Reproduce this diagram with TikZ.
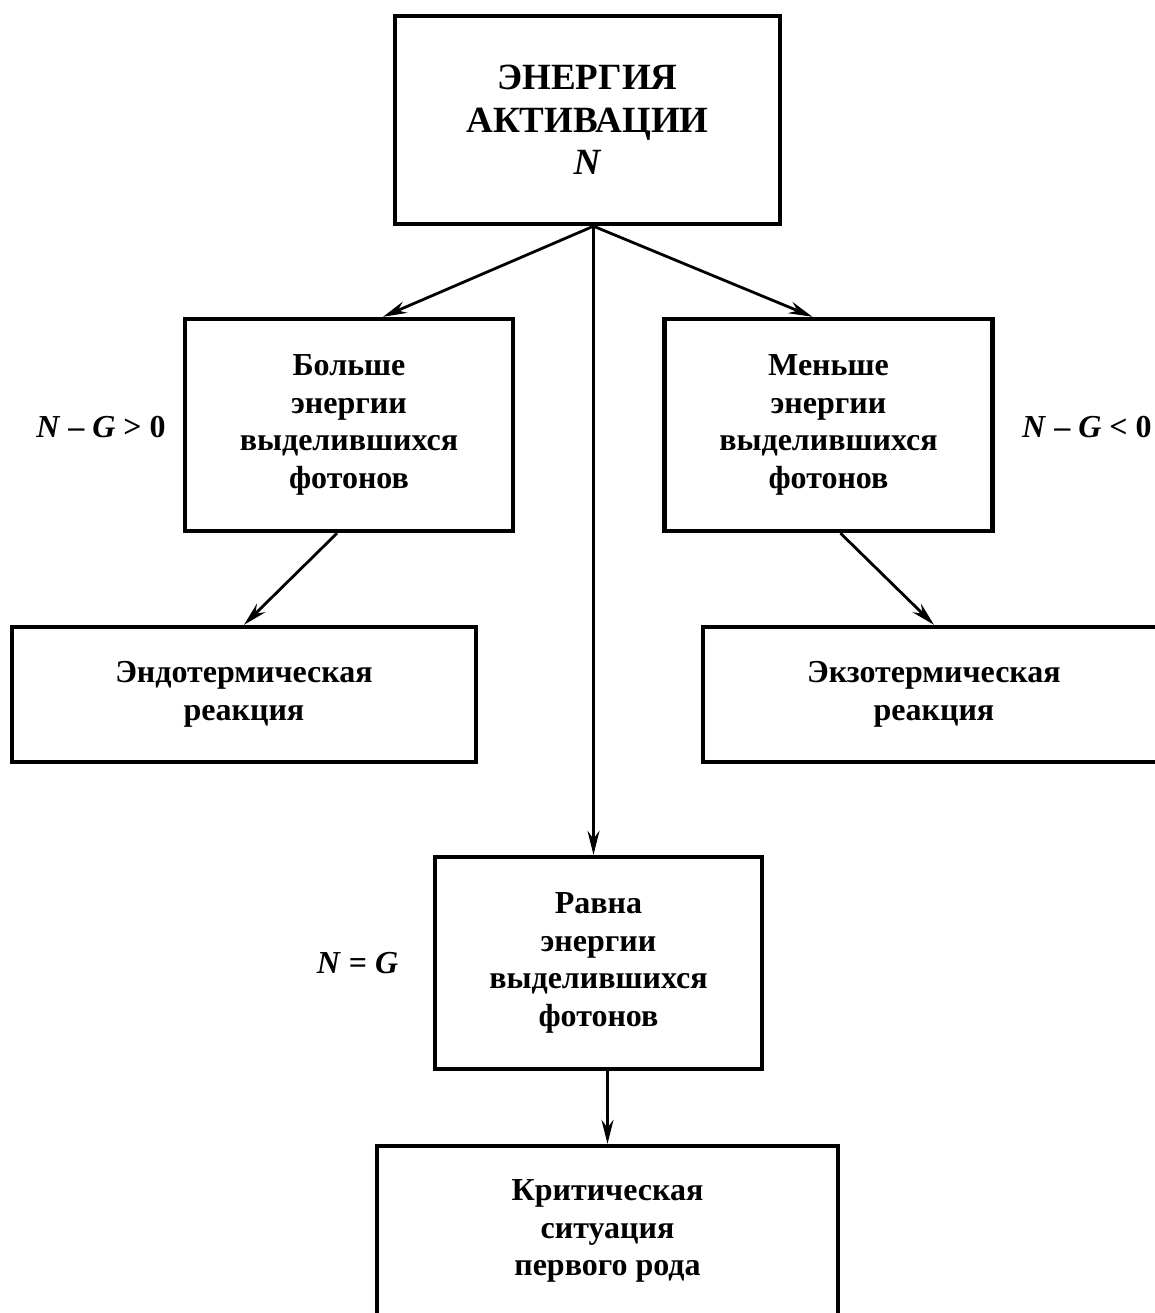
\documentclass[tikz,border=0pt]{standalone}
\usepackage{fontspec}
\setmainfont{Liberation Serif}
\usetikzlibrary{arrows.meta}

\begin{document}
\begin{tikzpicture}[x=0.5pt,y=-0.5pt,
box/.style={draw, line width=2.2pt, align=center, inner sep=0pt, font=\bfseries\fontsize{16}{18.75}\selectfont},
lbl/.style={inner sep=0pt, font=\bfseries\fontsize{16}{18.75}\selectfont},
arr/.style={line width=1.4pt, -{Stealth[length=12pt,width=6pt,inset=4pt]}}]
\clip (0,0) rectangle (1155,1313);
\node[box, minimum width=192.5pt, minimum height=104pt, font=\bfseries\fontsize{18.5}{21.25}\selectfont] (act) at (587.5,120) {ЭНЕРГИЯ\\АКТИВАЦИИ\\\textit{N}};
\node[box, minimum width=164pt, minimum height=106pt] (more) at (349,425) {Больше\\энергии\\выделившихся\\фотонов};
\node[box, minimum width=164pt, minimum height=106pt] (less) at (828.5,425) {Меньше\\энергии\\выделившихся\\фотонов};
\node[box, minimum width=232pt, minimum height=67.5pt] (endo) at (244,694.5) {Эндотермическая\\реакция};
\node[box, minimum width=231pt, minimum height=67.5pt] (exo) at (934,694.5) {Экзотермическая\\реакция};
\node[box, minimum width=163.5pt, minimum height=106pt] (eq) at (598.5,963) {Равна\\энергии\\выделившихся\\фотонов};
\node[box, minimum width=230.5pt, minimum height=85pt] (crit) at (607.5,1231) {Критическая\\ситуация\\первого рода};
\node[lbl, anchor=base] (gt) at (101,437) {\textit{N}~–~\textit{G}~>~0};
\node[lbl, anchor=base east] (lt) at (1152,437) {\textit{N}~–~\textit{G}~<~0};
\node[lbl, anchor=base] (eqn) at (357.5,973) {\textit{N}~=~\textit{G}};
\coordinate (hub) at ([xshift=3pt]act.south);
\draw[arr] (hub) -- ([xshift=17pt]more.north);
\draw[arr] (hub) -- ([xshift=-8pt]less.north);
\draw[arr] (hub) -- (hub |- eq.north);
\draw[arr] ([xshift=-6pt]more.south) -- (endo.north);
\draw[arr] ([xshift=6pt]less.south) -- (exo.north);
\draw[arr] (eq.south -| crit.north) -- (crit.north);
\end{tikzpicture}
\end{document}
